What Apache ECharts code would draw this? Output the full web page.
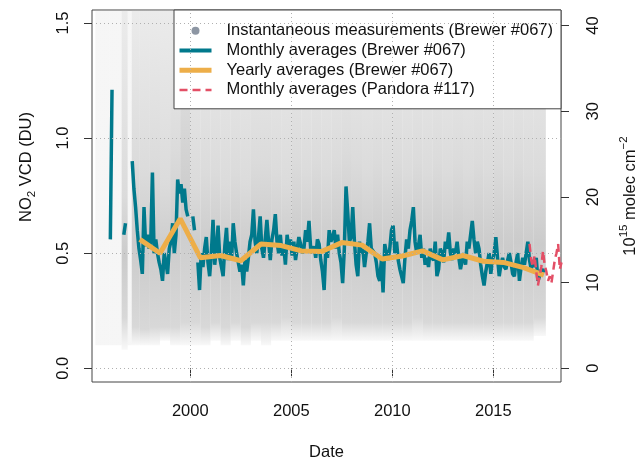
<!DOCTYPE html>
<html>
<head>
<meta charset="utf-8">
<script src="https://cdn.jsdelivr.net/npm/echarts@6/dist/echarts.min.js"></script>
<style>
  html, body { margin: 0; padding: 0; background: #fff; }
  #chart { width: 638px; height: 459px; }
</style>
</head>
<body>
<div id="chart"></div>
<script>
// axis ticks
var xTicks = [2000, 2005, 2010, 2015];
var duTicks = [0, 0.5, 1, 1.5];
var molecTicks = [0, 10, 20, 30, 40];
var DU_TO_MOLEC = 26.87; // 1 DU = 2.687e16 molec cm-2

// Brewer #067 monthly means (DU), one value per month from Jan 1996
var monthlyStart = 1996;
var brewerMonthly = [
  0.56, 1.21, null, null, null, null, null, null, 0.58, 0.63, null, null,
  null, 0.90, 0.78, 0.70, 0.60, 0.52, 0.47, 0.41, 0.70, 0.53, 0.58, 0.52,
  0.55, 0.85, 0.50, 0.56, 0.50, 0.46, 0.43, 0.38, 0.50, 0.46, 0.41, 0.52,
  0.55, 0.63, 0.50, 0.58, 0.82, 0.76, 0.80, 0.72, 0.78, 0.69, 0.66, null,
  null, 0.66, 0.60, null, 0.46, 0.34, 0.50, 0.44, 0.52, 0.57, 0.46, 0.40,
  0.50, 0.645, 0.45, 0.52, 0.62, 0.48, 0.44, 0.40, 0.53, 0.61, 0.47, 0.55,
  0.47, 0.63, 0.55, 0.50, 0.46, 0.42, 0.45, 0.36, 0.47, 0.42, 0.48, 0.55,
  0.58, 0.69, 0.55, 0.50, 0.57, 0.66, 0.52, 0.48, 0.56, 0.645, 0.55, 0.47,
  0.56, 0.60, 0.67, 0.55, 0.50, 0.58, 0.49, 0.53, 0.45, 0.58, 0.52, 0.56,
  0.49, 0.55, 0.47, 0.52, 0.57, 0.54, 0.50, 0.52, 0.60, 0.55, 0.64, 0.52,
  0.50, 0.53, 0.48, 0.56, 0.54, 0.47, 0.42, 0.34, 0.52, 0.48, 0.60, 0.55,
  0.57, 0.60, 0.52, 0.58, 0.50, 0.46, 0.37, 0.52, 0.79, 0.68, 0.55, 0.57,
  0.70, 0.55, 0.45, 0.40, 0.55, 0.50, 0.52, 0.44, 0.50, 0.55, 0.63, 0.52,
  0.52, 0.50, 0.46, 0.40, 0.38, 0.47, 0.33, 0.54, 0.50, 0.47, 0.52, 0.60,
  0.62, 0.50, 0.55, 0.47, 0.43, 0.40, 0.37, 0.48, 0.56, 0.52, 0.60, 0.64,
  0.70, 0.55, 0.50, 0.53, 0.58, 0.48, 0.52, 0.45, 0.48, 0.44, 0.52, 0.48,
  0.47, 0.55, 0.40, 0.43, 0.52, 0.50, 0.46, 0.55, 0.52, 0.59, 0.50, 0.47,
  0.52, 0.50, 0.55, 0.48, 0.43, 0.47, 0.50, 0.45, 0.55, 0.52, 0.58, 0.64,
  0.56, 0.50, 0.55, 0.52, 0.45, 0.40, 0.36, 0.42, 0.46, 0.50, 0.41, 0.47,
  0.50, 0.57, 0.48, 0.40, 0.45, 0.48, 0.44, 0.43, 0.47, 0.50, 0.46, 0.41,
  0.40, 0.46, 0.50, 0.38, 0.44, 0.48, 0.45, 0.50, 0.55, 0.47, 0.43, 0.47,
  0.44, 0.48, 0.38, 0.40, 0.43, 0.42, 0.43
];

// Brewer #067 yearly means (DU)
var yearlyYears = [1997.5, 1998.5, 1999.5, 2000.5, 2001.5, 2002.5, 2003.5, 2004.5, 2005.5, 2006.5,
  2007.5, 2008.5, 2009.5, 2010.5, 2011.5, 2012.5, 2013.5, 2014.5, 2015.5, 2016.5, 2017.5];
var brewerYearly = [0.56, 0.50, 0.65, 0.48, 0.49, 0.467, 0.54, 0.533, 0.51, 0.507,
  0.546, 0.535, 0.475, 0.488, 0.51, 0.471, 0.49, 0.465, 0.46, 0.437, 0.405];

// Pandora #117 monthly means (DU), from Oct 2016
var pandoraStart = 2016.75;
var pandoraMonthly = [0.54, 0.47, 0.44, 0.49, 0.42, 0.36, 0.40, 0.44, 0.51, 0.45, 0.42, 0.38,
  0.40, 0.37, 0.42, 0.47, 0.50, 0.54, 0.43, 0.46];

// instantaneous measurement cloud: [from, to, lowest, dense low, dense high, highest] (DU)
var cloudRows = [
  [1995.3, 1996.0, 0.10, null, null, 1.56],
  [1996.0, 1996.6, 0.10, null, null, 1.56],
  [1996.6, 1996.9, 0.08, 0.22, 0.75, 1.56],
  [1996.9, 1997.1, 0.10, null, null, 1.56],
  [1997.1, 1997.5, 0.10, 0.18, 0.90, 1.56],
  [1997.5, 1998.0, 0.10, 0.17, 0.85, 1.56],
  [1998.0, 1998.5, 0.10, 0.18, 0.90, 1.56],
  [1998.5, 1999.0, 0.12, 0.18, 0.80, 1.56],
  [1999.0, 1999.5, 0.10, 0.18, 0.95, 1.56],
  [1999.5, 2000.0, 0.10, 0.20, 1.20, 1.56],
  [2000.0, 2000.5, 0.10, 0.20, 0.80, 1.56],
  [2000.5, 2001.0, 0.10, 0.18, 0.85, 1.56],
  [2001.0, 2001.5, 0.12, 0.20, 0.85, 1.56],
  [2001.5, 2002.0, 0.10, 0.18, 0.80, 1.56],
  [2002.0, 2002.5, 0.12, 0.20, 0.85, 1.56],
  [2002.5, 2003.0, 0.10, 0.18, 0.80, 1.56],
  [2003.0, 2003.5, 0.12, 0.20, 0.90, 1.56],
  [2003.5, 2004.0, 0.10, 0.20, 0.90, 1.56],
  [2004.0, 2004.5, 0.12, 0.20, 0.85, 1.56],
  [2004.5, 2005.0, 0.12, 0.22, 0.80, 1.56],
  [2005.0, 2005.5, 0.12, 0.20, 0.90, 1.56],
  [2005.5, 2006.0, 0.12, 0.20, 0.85, 1.56],
  [2006.0, 2006.5, 0.12, 0.20, 0.90, 1.56],
  [2006.5, 2007.0, 0.12, 0.20, 0.85, 1.56],
  [2007.0, 2007.5, 0.12, 0.22, 0.90, 1.56],
  [2007.5, 2008.0, 0.12, 0.20, 0.95, 1.56],
  [2008.0, 2008.5, 0.12, 0.20, 0.90, 1.56],
  [2008.5, 2009.0, 0.12, 0.20, 0.85, 1.56],
  [2009.0, 2009.5, 0.12, 0.20, 0.90, 1.56],
  [2009.5, 2010.0, 0.12, 0.20, 0.85, 1.56],
  [2010.0, 2010.5, 0.12, 0.20, 0.90, 1.56],
  [2010.5, 2011.0, 0.12, 0.20, 0.85, 1.56],
  [2011.0, 2011.5, 0.12, 0.22, 0.90, 1.56],
  [2011.5, 2012.0, 0.12, 0.20, 0.85, 1.56],
  [2012.0, 2012.5, 0.12, 0.20, 0.90, 1.56],
  [2012.5, 2013.0, 0.12, 0.20, 0.85, 1.56],
  [2013.0, 2013.5, 0.12, 0.20, 0.90, 1.56],
  [2013.5, 2014.0, 0.12, 0.20, 0.85, 1.56],
  [2014.0, 2014.5, 0.12, 0.20, 0.90, 1.56],
  [2014.5, 2015.0, 0.12, 0.20, 0.85, 1.56],
  [2015.0, 2015.5, 0.12, 0.20, 0.90, 1.56],
  [2015.5, 2016.0, 0.12, 0.20, 0.85, 1.56],
  [2016.0, 2016.5, 0.12, 0.20, 0.90, 1.56],
  [2016.5, 2017.0, 0.12, 0.20, 0.85, 1.56],
  [2017.0, 2017.6, 0.14, 0.22, 0.85, 1.56]
];

var FONT = 'Liberation Sans, Arial, sans-serif';
var FS = 16.5;

function monthPairs(start, values) {
  return values.map(function (v, i) {
    return [start + (i + 0.5) / 12, v == null ? '-' : v];
  });
}

var chart = echarts.init(document.getElementById('chart'));

function grey(a) {
  return 'rgba(190,190,190,' + a + ')';
}

function renderCloud(params, api) {
  var x0 = api.value(0), x1 = api.value(1);
  var lo = api.value(2), cLo = api.value(3), cHi = api.value(4), hi = api.value(5);
  var pTop = api.coord([x0, hi]);
  var pBot = api.coord([x1, lo]);
  var stops = [
    { offset: 0, color: grey(0.14) },
    { offset: 1, color: grey(0.14) }
  ];
  if (!isNaN(cLo) && !isNaN(cHi)) {
    var a = (hi - cHi) / (hi - lo), b = (hi - cLo) / (hi - lo);
    stops = [
      { offset: 0, color: grey(0.30) },
      { offset: a, color: grey(0.55) },
      { offset: (a + b) / 2, color: grey(0.80) },
      { offset: b, color: grey(0.60) },
      { offset: 1, color: grey(0.10) }
    ];
  }
  return {
    type: 'rect',
    shape: { x: pTop[0], y: pTop[1], width: pBot[0] - pTop[0], height: pBot[1] - pTop[1] },
    style: { fill: new echarts.graphic.LinearGradient(0, 0, 0, 1, stops) }
  };
}

var option = {
  animation: false,
  backgroundColor: '#fff',
  textStyle: { fontFamily: FONT },
  grid: {
    left: 92, right: 77, top: 10, bottom: 77,
    containLabel: false, outerBoundsMode: 'none',
    show: true, borderColor: '#444', borderWidth: 1, backgroundColor: 'transparent'
  },
  legend: {
    orient: 'vertical',
    left: 174, top: 10,
    padding: [11, 8, 9, 3],
    itemGap: 0,
    itemWidth: 32,
    itemHeight: 8,
    backgroundColor: '#fff',
    borderColor: '#444',
    borderWidth: 1,
    borderRadius: 0,
    selectedMode: false,
    textStyle: { fontSize: FS, fontFamily: FONT, color: '#111', lineHeight: 19.7, padding: [0, 0, 0, 10] },
    data: [
      { name: 'Instantaneous measurements (Brewer #067)', icon: 'circle', itemStyle: { color: '#8d96a3' } },
      { name: 'Monthly averages (Brewer #067)', itemStyle: { opacity: 0 }, lineStyle: { width: 4 } },
      { name: 'Yearly averages (Brewer #067)', itemStyle: { opacity: 0 }, lineStyle: { width: 5 } },
      { name: 'Monthly averages (Pandora #117)', itemStyle: { opacity: 0 }, lineStyle: { width: 2.5 } }
    ]
  },
  xAxis: {
    type: 'value',
    min: 1995.134, max: 2018.35,
    name: 'Date', nameLocation: 'middle', nameGap: 62,
    nameTextStyle: { fontSize: FS, color: '#111' },
    axisLine: { show: false },
    splitLine: { show: false },
    axisTick: { show: true, length: 8, lineStyle: { color: '#333' }, customValues: xTicks },
    axisLabel: { fontSize: FS, color: '#111', margin: 21, customValues: xTicks, formatter: function (v) { return String(v); } }
  },
  yAxis: [
    {
      type: 'value',
      min: -0.0596, max: 1.5565,
      name: '{t|NO}{s|2}{t| VCD (DU)}',
      nameLocation: 'middle', nameGap: 54, nameRotate: 90,
      nameTextStyle: {
        padding: [0, 0, 0, 58],
        rich: {
          t: { fontSize: FS, color: '#111', fontFamily: FONT, lineHeight: 24 },
          s: { fontSize: 11.5, color: '#111', fontFamily: FONT, verticalAlign: 'bottom', lineHeight: 24 }
        }
      },
      axisLine: { show: false },
      splitLine: { show: false },
      axisTick: { show: true, length: 8, lineStyle: { color: '#333' }, customValues: duTicks },
      axisLabel: { fontSize: FS, color: '#111', rotate: 90, margin: 20, customValues: duTicks,
        formatter: function (v) { return v.toFixed(1); } }
    },
    {
      type: 'value',
      position: 'right',
      min: -0.0596 * DU_TO_MOLEC, max: 1.5565 * DU_TO_MOLEC,
      name: '{t|10}{p|15}{t| molec cm}{p|\u22122}',
      nameLocation: 'middle', nameGap: 57, nameRotate: 90,
      nameTextStyle: {
        rich: {
          t: { fontSize: FS, color: '#111', fontFamily: FONT, lineHeight: 24 },
          p: { fontSize: 11.5, color: '#111', fontFamily: FONT, verticalAlign: 'top', lineHeight: 24 }
        }
      },
      axisLine: { show: false },
      splitLine: { show: false },
      axisTick: { show: true, length: 8, lineStyle: { color: '#333' }, customValues: molecTicks },
      axisLabel: { fontSize: FS, color: '#111', rotate: 90, margin: 24, customValues: molecTicks,
        formatter: function (v) { return String(Math.round(v)); } }
    }
  ],
  series: [
    {
      name: 'Instantaneous measurements (Brewer #067)',
      type: 'custom',
      renderItem: renderCloud,
      data: cloudRows.map(function (r) { return r.map(function (v) { return v == null ? '-' : v; }); }),
      encode: { x: [0, 1], y: [2, 5] },
      itemStyle: { color: '#8d96a3' },
      clip: true,
      silent: true,
      z: 1,
      markLine: {
        silent: true,
        symbol: 'none',
        label: { show: false },
        lineStyle: { color: '#b0b0b0', type: [1, 3], width: 1 },
        data: xTicks.map(function (v) { return { xAxis: v }; })
          .concat(duTicks.map(function (v) { return { yAxis: v }; }))
      }
    },
    {
      name: 'Monthly averages (Brewer #067)',
      type: 'line',
      data: monthPairs(monthlyStart, brewerMonthly),
      showSymbol: false, symbol: 'none',
      connectNulls: false,
      lineStyle: { color: '#00798c', width: 3.5 },
      itemStyle: { color: '#00798c' },
      z: 3
    },
    {
      name: 'Yearly averages (Brewer #067)',
      type: 'line',
      data: yearlyYears.map(function (y, i) { return [y, brewerYearly[i]]; }),
      showSymbol: false, symbol: 'none',
      lineStyle: { color: '#edae49', width: 5 },
      itemStyle: { color: '#edae49' },
      z: 4
    },
    {
      name: 'Monthly averages (Pandora #117)',
      type: 'line',
      data: monthPairs(pandoraStart, pandoraMonthly),
      showSymbol: false, symbol: 'none',
      lineStyle: { color: '#e34f66', width: 2.5, type: [8, 5] },
      itemStyle: { color: '#e34f66' },
      z: 5
    }
  ]
};

chart.setOption(option);
</script>
</body>
</html>
